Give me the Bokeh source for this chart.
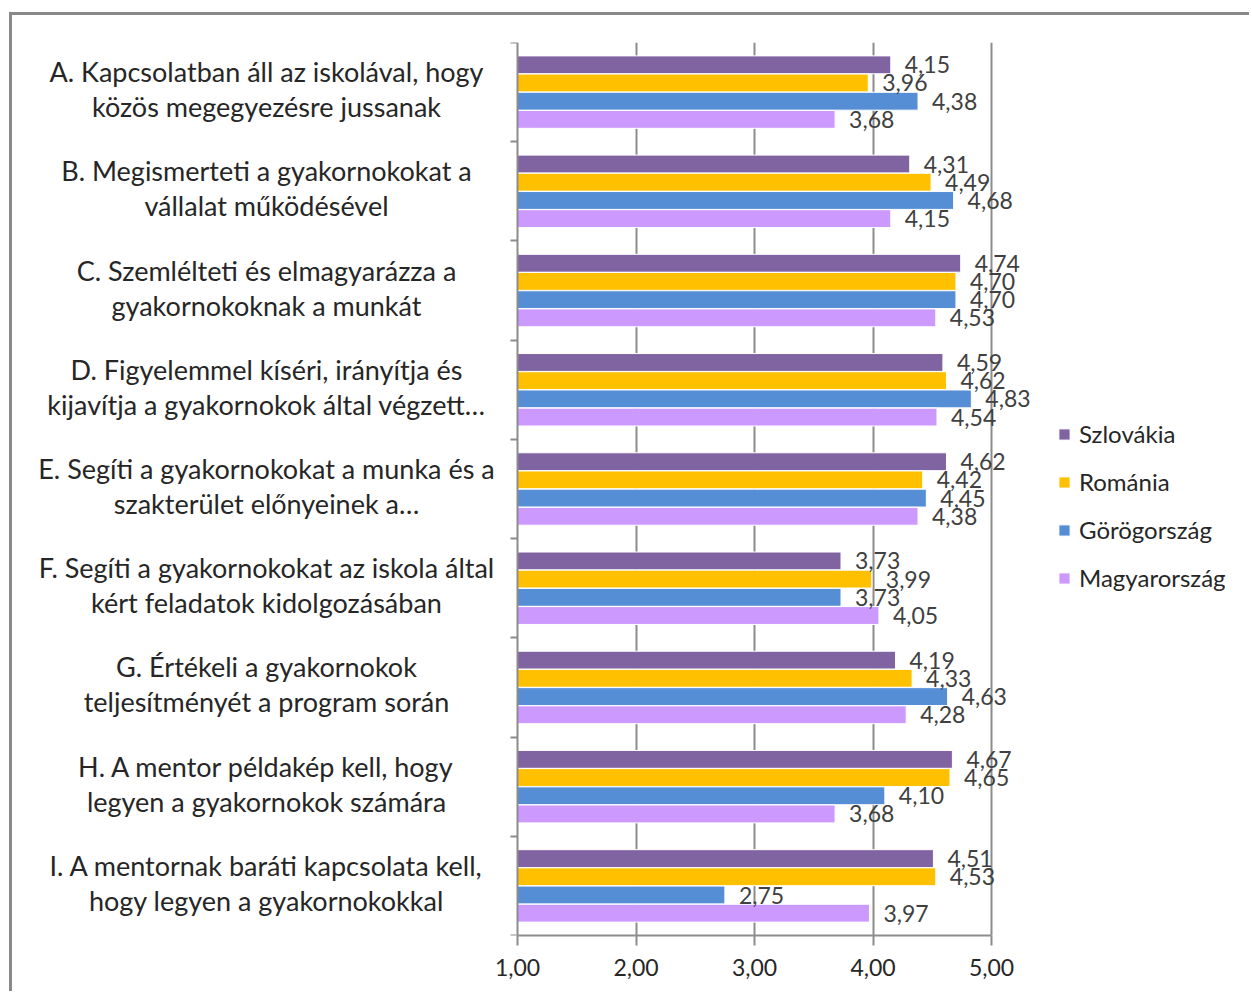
from bokeh.plotting import figure
from bokeh.models import (ColumnDataSource, Range1d, FixedTicker, LabelSet,
                          Legend, LegendItem)
from bokeh.core.properties import value
from bokeh.transform import dodge
from bokeh.embed import file_html
from bokeh.resources import INLINE

categories = [
    "A. Kapcsolatban áll az iskolával, hogy\nközös megegyezésre jussanak",
    "B. Megismerteti a gyakornokokat a\nvállalat működésével",
    "C. Szemlélteti és elmagyarázza a\ngyakornokoknak a munkát",
    "D. Figyelemmel kíséri, irányítja és\nkijavítja a gyakornokok által végzett…",
    "E. Segíti a gyakornokokat a munka és a\nszakterület előnyeinek a…",
    "F. Segíti a gyakornokokat az iskola által\nkért feladatok kidolgozásában",
    "G. Értékeli a gyakornokok\nteljesítményét a program során",
    "H. A mentor példakép kell, hogy\nlegyen a gyakornokok számára",
    "I. A mentornak baráti kapcsolata kell,\nhogy legyen a gyakornokokkal",
]
series_names = ["Szlovákia", "Románia", "Görögország", "Magyarország"]
szlovakia = [4.15, 4.31, 4.74, 4.59, 4.62, 3.73, 4.19, 4.67, 4.51]
romania = [3.96, 4.49, 4.70, 4.62, 4.42, 3.99, 4.33, 4.65, 4.53]
gorogorszag = [4.38, 4.68, 4.70, 4.83, 4.45, 3.73, 4.63, 4.10, 2.75]
magyarorszag = [3.68, 4.15, 4.53, 4.54, 4.38, 4.05, 4.28, 3.68, 3.97]
x_ticks = [1, 2, 3, 4, 5]
x_tick_labels = ["1,00", "2,00", "3,00", "4,00", "5,00"]

series_values = [szlovakia, romania, gorogorszag, magyarorszag]
colors = ["#8064A2", "#FFC000", "#558ED5", "#CC99FF"]
offsets = [0.275, 0.092, -0.092, -0.275]
FONT = "Lato"
TEXT = "#262626"
GRID = "#8c8c8c"

n = len(categories)
slot = [n - i - 0.5 for i in range(n)]   # first category on top

# layout (pixels)
W, H = 1240, 979
LEFT_PANEL = 20
FRAME_W = W - LEFT_PANEL
PX_PER_UNIT = 118.5
AXIS_PX = 517 - 12 - LEFT_PANEL          # x position of value 1 inside frame
x_start = x_ticks[0] - AXIS_PX / PX_PER_UNIT
x_end = x_start + FRAME_W / PX_PER_UNIT

p = figure(
    width=W, height=H,
    y_range=Range1d(0, n),
    x_range=Range1d(x_start, x_end),
    output_backend="svg", toolbar_location=None,
    min_border_left=LEFT_PANEL, min_border_right=0,
    min_border_top=27, min_border_bottom=59,
)
p.styles = {"margin-left": "9px", "margin-top": "12px",
            "border-left": "3px solid #898989", "border-top": "3px solid #898989"}
p.outline_line_color = None
p.background_fill_color = "white"
p.border_fill_color = "white"

items = []
for name, vals, col, off in zip(series_names, series_values, colors, offsets):
    src = ColumnDataSource(dict(
        pos=slot, cat=categories, val=vals,
        txt=[f"{v:.2f}".replace(".", ",") for v in vals],
    ))
    r = p.hbar(y=dodge("pos", off), left=x_ticks[0], right="val",
               height=0.18, fill_color=col, line_color="white", line_width=1, source=src)
    items.append(LegendItem(label=name, renderers=[r]))
    p.add_layout(LabelSet(x="val", y=dodge("pos", off), text="txt",
                          source=src, x_offset=14, text_align="left",
                          text_baseline="middle", text_font=value(FONT),
                          text_font_size=value("23px"), text_color="#404040"))

# category labels: each line centred on its own
lines = [c.split("\n") for c in categories]
cat_src = ColumnDataSource(dict(
    pos=slot, x=[x_ticks[0]] * n,
    line1=[l[0] for l in lines], line2=[l[1] if len(l) > 1 else "" for l in lines],
))
for col_name, yoff in (("line1", 20.5), ("line2", -14.5)):
    p.add_layout(LabelSet(x="x", y="pos", text=col_name, source=cat_src,
                          x_offset=-251, y_offset=yoff,
                          text_align="center", text_baseline="middle",
                          text_font=value(FONT),
                          text_font_size=value("27px"), text_color=TEXT))

ya = p.yaxis[0]
ya.fixed_location = x_ticks[0]
ya.ticker = FixedTicker(ticks=list(range(n + 1)))
ya.major_label_text_color = None
ya.major_label_text_font_size = "0px"
ya.major_label_standoff = 0
ya.major_tick_out = 7
ya.major_tick_in = 0
ya.minor_tick_line_color = None
ya.axis_line_color = GRID
ya.axis_line_width = 2
ya.major_tick_line_color = GRID
ya.major_tick_line_width = 2
p.ygrid.visible = False

xa = p.xaxis[0]
xa.ticker = FixedTicker(ticks=x_ticks)
xa.bounds = (x_ticks[0], x_ticks[-1])
xa.major_label_overrides = {t: l for t, l in zip(x_ticks, x_tick_labels)}
xa.major_tick_out = 10
xa.major_tick_in = 0
xa.minor_tick_line_color = None
xa.axis_line_color = GRID
xa.axis_line_width = 2
xa.major_tick_line_color = GRID
xa.major_tick_line_width = 2
xa.major_label_text_font = FONT
xa.major_label_text_font_size = "23px"
xa.major_label_text_color = TEXT
xa.major_label_standoff = 13

p.xgrid.ticker = FixedTicker(ticks=x_ticks[1:])
p.xgrid.grid_line_color = GRID
p.xgrid.grid_line_width = 2

legend = Legend(items=items, location=(1057 - 12 - LEFT_PANEL, 343),
                orientation="vertical",
                label_text_font=FONT, label_text_font_size="24px",
                label_text_color=TEXT, glyph_width=14, glyph_height=14,
                label_height=26, spacing=19, padding=0, margin=0,
                label_standoff=8, border_line_color=None,
                background_fill_alpha=0)
p.add_layout(legend, "center")

open("out.html", "w").write(file_html(p, INLINE))
